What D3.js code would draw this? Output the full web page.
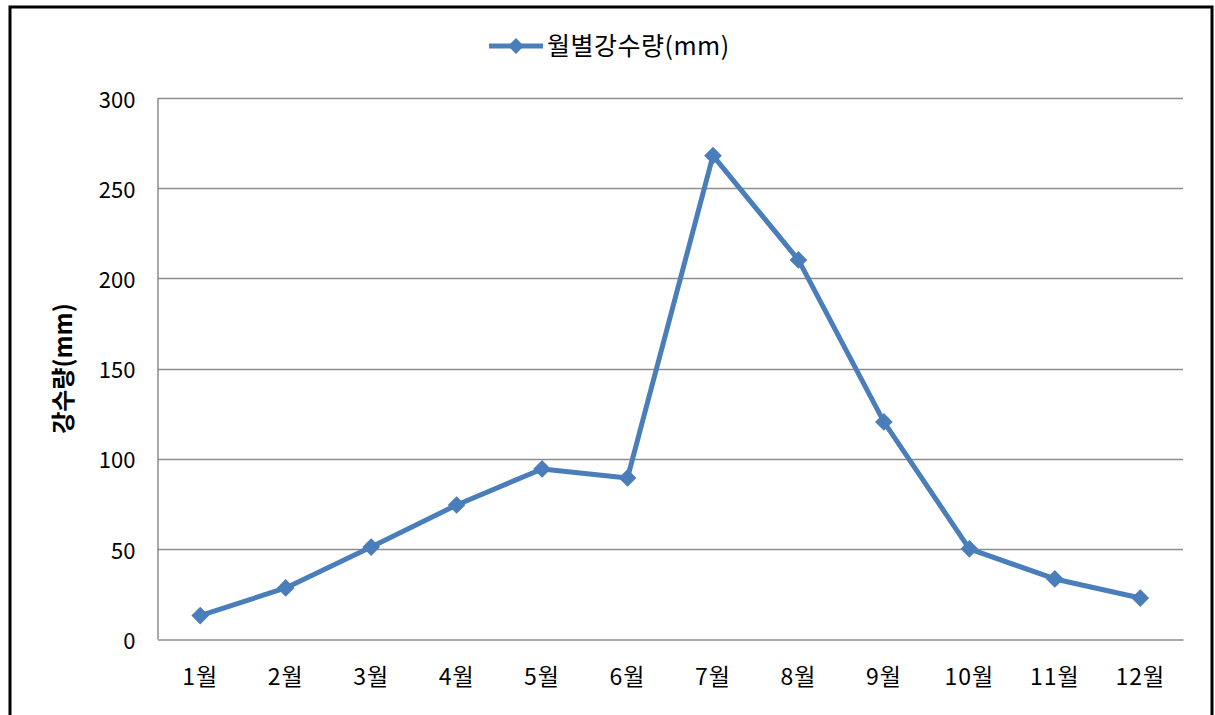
<!DOCTYPE html>
<html>
<head>
<meta charset="utf-8">
<script src="https://cdn.jsdelivr.net/npm/d3@7"></script>
<style>
  html, body { margin: 0; padding: 0; background: #fff; }
  svg { display: block; }
  text { font-family: "Noto Sans CJK KR", "DejaVu Sans", sans-serif; fill: #000; }
</style>
</head>
<body>
<svg id="chart" width="1215" height="715"></svg>
<script>
// 월별 강수량 데이터
const months = ["1월", "2월", "3월", "4월", "5월", "6월", "7월", "8월", "9월", "10월", "11월", "12월"];
const rainfall = [13, 28.3, 51, 74.3, 94.3, 89.3, 268, 210.2, 120.4, 50, 33.3, 22.7];
const yTicks = [0, 50, 100, 150, 200, 250, 300];
const seriesName = "월별강수량(mm)";
const yTitle = "강수량(mm)";

const svg = d3.select("#chart");
const lineColor = "#4a7ebb";
const krFont = "'Noto Sans CJK KR', 'DejaVu Sans', sans-serif";

// 바깥 테두리
svg.append("rect")
  .attr("x", 10).attr("y", 7)
  .attr("width", 1202).attr("height", 720)
  .attr("fill", "#fff").attr("stroke", "#000").attr("stroke-width", 3);

const plot = { left: 157.5, right: 1183, top: 98, bottom: 639 };

const x = d3.scaleBand().domain(months).range([plot.left, plot.right]);
const y = d3.scaleLinear().domain([0, 300]).range([plot.bottom, plot.top]);

// 가로 눈금선
svg.append("g")
  .selectAll("line")
  .data(yTicks.filter(d => d > 0))
  .join("line")
  .attr("x1", plot.left).attr("x2", plot.right)
  .attr("y1", d => Math.round(y(d)) + 0.5).attr("y2", d => Math.round(y(d)) + 0.5)
  .attr("stroke", "#8c8c8c").attr("stroke-width", 1.5);

// Y축
const yAxis = svg.append("g")
  .attr("transform", `translate(${plot.left},0)`)
  .call(d3.axisLeft(y).tickValues(yTicks).tickSize(0).tickPadding(22));
yAxis.select(".domain").attr("stroke", "#8c8c8c").attr("stroke-width", 1.5);
yAxis.selectAll("text")
  .style("font-size", "22px").style("font-family", krFont)
  .attr("fill", "#000").attr("dy", "0.42em");

// X축
const xAxis = svg.append("g")
  .attr("transform", `translate(0,${plot.bottom + 0.5})`)
  .call(d3.axisBottom(x).tickSize(0).tickPadding(29));
xAxis.select(".domain").attr("stroke", "#8c8c8c").attr("stroke-width", 1.5);
xAxis.selectAll("text")
  .style("font-size", "23px").style("font-family", krFont)
  .style("letter-spacing", "1px").attr("fill", "#000");

// Y축 제목
svg.append("text")
  .attr("transform", `translate(72,${(plot.top + plot.bottom) / 2}) rotate(-90)`)
  .attr("text-anchor", "middle")
  .style("font-size", "24px").style("font-weight", "bold").style("font-family", krFont)
  .text(yTitle);

// 꺾은선
const line = d3.line()
  .x((d, i) => x(months[i]) + x.bandwidth() / 2)
  .y(d => y(d));

svg.append("path")
  .datum(rainfall)
  .attr("d", line)
  .attr("fill", "none")
  .attr("stroke", lineColor)
  .attr("stroke-width", 5)
  .attr("stroke-linejoin", "round");

// 마름모 표식
const diamond = d3.symbol().type(d3.symbolDiamond2).size(200);
svg.append("g")
  .selectAll("path")
  .data(rainfall)
  .join("path")
  .attr("transform", (d, i) => `translate(${x(months[i]) + x.bandwidth() / 2},${y(d)})`)
  .attr("d", diamond)
  .attr("fill", lineColor);

// 범례
const legend = svg.append("g").attr("transform", "translate(489,46)");
legend.append("line")
  .attr("x1", 0).attr("x2", 54).attr("y1", 0).attr("y2", 0)
  .attr("stroke", lineColor).attr("stroke-width", 5);
legend.append("path")
  .attr("transform", "translate(27,0)")
  .attr("d", d3.symbol().type(d3.symbolDiamond2).size(160))
  .attr("fill", lineColor);
legend.append("text")
  .attr("x", 58).attr("y", 9)
  .style("font-size", "25px").style("font-family", krFont)
  .style("letter-spacing", "0.5px")
  .text(seriesName);
</script>
</body>
</html>
